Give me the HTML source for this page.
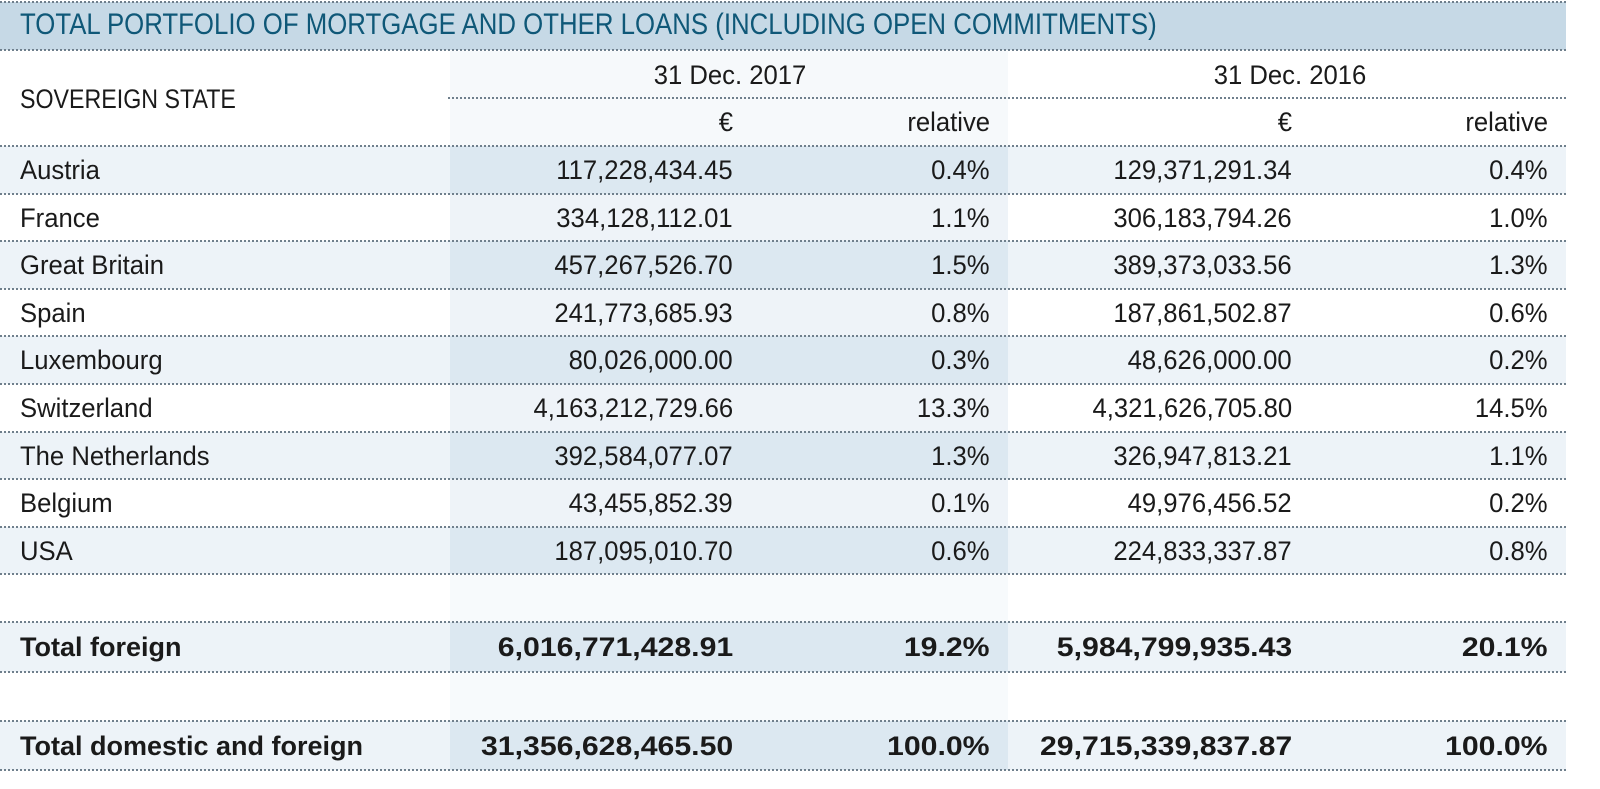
<!DOCTYPE html>
<html><head><meta charset="utf-8"><style>
html,body{margin:0;padding:0;background:#fff;}
body{width:1600px;height:789px;position:relative;overflow:hidden;font-family:"Liberation Sans",sans-serif;color:#1a1a1a;}
.a{position:absolute;}
.line{position:absolute;height:0;border-top:2px dotted #6f7f8c;}
.t{position:absolute;white-space:nowrap;font-size:27px;transform:scaleX(0.95);line-height:30px;}
.r{transform-origin:right center;}
.l{transform-origin:left center;}
.c{transform-origin:center center;}
.b{font-weight:bold;transform:scaleX(1.0);}
.r.b{transform:scaleX(1.12);}
</style></head><body>
<div class="a" style="left:0;top:2px;width:1566px;height:48px;background:#c6d9e6"></div>
<div class="line" style="left:0;top:1px;width:1566px"></div>
<div class="line" style="left:0;top:49px;width:1566px"></div>
<div class="t l" style="left:20px;top:10px;font-size:30px;color:#0f5878;transform:scaleX(0.86)">TOTAL PORTFOLIO OF MORTGAGE AND OTHER LOANS (INCLUDING OPEN COMMITMENTS)</div>
<div class="a" style="left:450px;top:51px;width:558px;height:95px;background:#f6f9fb"></div>
<div class="line" style="left:448px;top:97px;width:1118px"></div>
<div class="t l" style="left:20px;top:84px;transform:scaleX(0.86)">SOVEREIGN STATE</div>
<div class="t c" style="left:620px;top:60px;width:220px;text-align:center">31 Dec. 2017</div>
<div class="t c" style="left:1180px;top:60px;width:220px;text-align:center">31 Dec. 2016</div>
<div class="t r" style="right:867px;top:107px">€</div>
<div class="t r" style="right:610px;top:107px">relative</div>
<div class="t r" style="right:308px;top:107px">€</div>
<div class="t r" style="right:52px;top:107px">relative</div>
<div id="rows"></div>
<script>
var rows=[
["Austria","117,228,434.45","0.4%","129,371,291.34","0.4%"],
["France","334,128,112.01","1.1%","306,183,794.26","1.0%"],
["Great Britain","457,267,526.70","1.5%","389,373,033.56","1.3%"],
["Spain","241,773,685.93","0.8%","187,861,502.87","0.6%"],
["Luxembourg","80,026,000.00","0.3%","48,626,000.00","0.2%"],
["Switzerland","4,163,212,729.66","13.3%","4,321,626,705.80","14.5%"],
["The Netherlands","392,584,077.07","1.3%","326,947,813.21","1.1%"],
["Belgium","43,455,852.39","0.1%","49,976,456.52","0.2%"],
["USA","187,095,010.70","0.6%","224,833,337.87","0.8%"]];
var h='';var pitch=47.6;
function row(y,hgt,d,shade,bold){
 var bg=shade?'#edf3f8':'#fff',cb=shade?'#dce8f1':'#eef3f8';
 h+='<div class="a" style="left:0;top:'+y+'px;width:1566px;height:'+hgt+'px;background:'+bg+'"></div>';
 h+='<div class="a" style="left:450px;top:'+y+'px;width:558px;height:'+hgt+'px;background:'+cb+'"></div>';
 if(d){var ty=y+hgt/2-15;var bc=bold?' b':'';
  h+='<div class="t l'+bc+'" style="left:20px;top:'+ty+'px">'+d[0]+'</div>';
  h+='<div class="t r'+bc+'" style="right:867px;top:'+ty+'px">'+d[1]+'</div>';
  h+='<div class="t r'+bc+'" style="right:610px;top:'+ty+'px">'+d[2]+'</div>';
  h+='<div class="t r'+bc+'" style="right:308px;top:'+ty+'px">'+d[3]+'</div>';
  h+='<div class="t r'+bc+'" style="right:52px;top:'+ty+'px">'+d[4]+'</div>';}
}
var lines=[145];
for(var i=0;i<rows.length;i++){var y0=Math.round(146+i*pitch),y1=Math.round(146+(i+1)*pitch);row(y0,y1-y0,rows[i],i%2==0,false);lines.push(y1-1);}
var blank=function(y0,y1){h+='<div class="a" style="left:450px;top:'+y0+'px;width:558px;height:'+(y1-y0)+'px;background:#f7fafc"></div>';};
blank(575,622);lines.push(621);
row(622,50,["Total foreign","6,016,771,428.91","19.2%","5,984,799,935.43","20.1%"],true,true);lines.push(671);
blank(673,721);lines.push(720);
row(721,49,["Total domestic and foreign","31,356,628,465.50","100.0%","29,715,339,837.87","100.0%"],true,true);lines.push(769);
for(var j=0;j<lines.length;j++)h+='<div class="line" style="left:0;top:'+lines[j]+'px;width:1566px"></div>';
document.getElementById('rows').innerHTML=h;
</script>
</body></html>
